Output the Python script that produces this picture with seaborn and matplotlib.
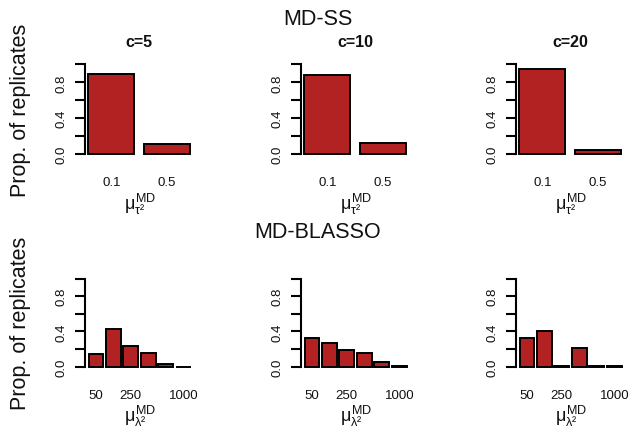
import matplotlib
matplotlib.use("Agg")
import matplotlib.pyplot as plt
import matplotlib.transforms as mtransforms
import numpy as np
import pandas as pd
import seaborn as sns

# ---------------- data ----------------
panel_titles = ["c=5", "c=10", "c=20"]

ss_levels = ["0.1", "0.5"]
ss_c5 = [0.89, 0.11]
ss_c10 = [0.88, 0.12]
ss_c20 = [0.95, 0.05]

blasso_levels = ["50", "100", "250", "500", "750", "1000"]
blasso_ticklabels = ["50", "", "250", "", "", "1000"]
blasso_c5 = [0.14, 0.43, 0.23, 0.16, 0.03, 0.0]
blasso_c10 = [0.33, 0.27, 0.19, 0.15, 0.05, 0.01]
blasso_c20 = [0.33, 0.40, 0.01, 0.21, 0.01, 0.01]

y_ticks = [0.0, 0.2, 0.4, 0.6, 0.8, 1.0]
y_ticklabels = ["0.0", "", "0.4", "", "0.8", ""]

row_titles = ["MD-SS", "MD-BLASSO"]
y_label = "Prop. of replicates"
x_label_ss = r"$\mu_{\tau²}^{\mathrm{MD}}$"
x_label_bl = r"$\mu_{\lambda²}^{\mathrm{MD}}$"

# ---------------- style ----------------
sns.set_style("white")
plt.rcParams["font.family"] = ["Liberation Sans", "DejaVu Sans"]
plt.rcParams["mathtext.fontset"] = "custom"
plt.rcParams["mathtext.rm"] = "Liberation Sans"
plt.rcParams["mathtext.it"] = "Liberation Sans"
plt.rcParams["mathtext.bf"] = "Liberation Sans:bold"
TXT = "#111111"
plt.rcParams["text.color"] = TXT
plt.rcParams["axes.labelcolor"] = TXT
plt.rcParams["xtick.color"] = TXT
plt.rcParams["ytick.color"] = TXT

BAR = "#B22222"
W, H = 631, 439
fig = plt.figure(figsize=(W / 100, H / 100), dpi=100)

axes_left_px = [85, 301, 516]
axes_w_px = 110
rows = [
    dict(levels=ss_levels, ticklabels=ss_levels, series=[ss_c5, ss_c10, ss_c20],
         bottom_px=158.6, height_px=96.7, xlabel=x_label_ss, xlim=(-0.48, 1.516)),
    dict(levels=blasso_levels, ticklabels=blasso_ticklabels,
         series=[blasso_c5, blasso_c10, blasso_c20],
         bottom_px=371.2, height_px=95.0, xlabel=x_label_bl, xlim=(-0.617, 5.67)),
]

for r, row in enumerate(rows):
    for p in range(3):
        ax = fig.add_axes([axes_left_px[p] / W, 1 - row["bottom_px"] / H,
                           axes_w_px / W, row["height_px"] / H])
        df = pd.DataFrame({"level": row["levels"], "prop": row["series"][p]})
        sns.barplot(data=df, x="level", y="prop", order=row["levels"], color=BAR,
                    saturation=1, edgecolor="black", linewidth=1.4, width=1 / 1.2, ax=ax)
        ax.set_xlim(*row["xlim"])
        ax.set_ylim(-0.04, 1.04)
        for s in ["top", "right", "bottom"]:
            ax.spines[s].set_visible(False)
        ax.spines["left"].set_bounds(0, 1)
        ax.spines["left"].set_linewidth(1.5)
        ax.spines["left"].set_color("black")
        ax.set_yticks(y_ticks)
        ax.set_yticklabels(y_ticklabels, rotation=90, va="center")
        ax.tick_params(axis="y", length=7, width=1.5, pad=5.5, labelsize=9.5,
                       colors="black", labelcolor=TXT, left=True)
        ax.set_xticks(range(len(row["levels"])))
        ax.set_xticklabels(row["ticklabels"])
        ax.tick_params(axis="x", length=0, pad=13.5, labelsize=9.5, labelcolor=TXT)
        ax.set_ylabel("")
        ax.set_xlabel(row["xlabel"], fontsize=13, labelpad=1.5)
        ax.grid(False)
        if r == 0:
            cx = (len(row["levels"]) - 1) / 2
            tr = mtransforms.blended_transform_factory(ax.transData, ax.transAxes)
            ax.text(cx, 1.20, panel_titles[p], transform=tr, ha="center", va="center",
                    fontsize=11.5, fontweight="bold")

# row titles and y labels
fig.text(318 / W, 1 - 19.5 / H, row_titles[0], ha="center", va="center", fontsize=15.5)
fig.text(318 / W, 1 - 232.5 / H, row_titles[1], ha="center", va="center", fontsize=15.5)
fig.text(21 / W, 1 - 110 / H, y_label, rotation=90, ha="center", va="center", fontsize=15.5)
fig.text(21 / W, 1 - 323.7 / H, y_label, rotation=90, ha="center", va="center", fontsize=15.5)

fig.savefig("out.png", dpi=100, facecolor="white")
